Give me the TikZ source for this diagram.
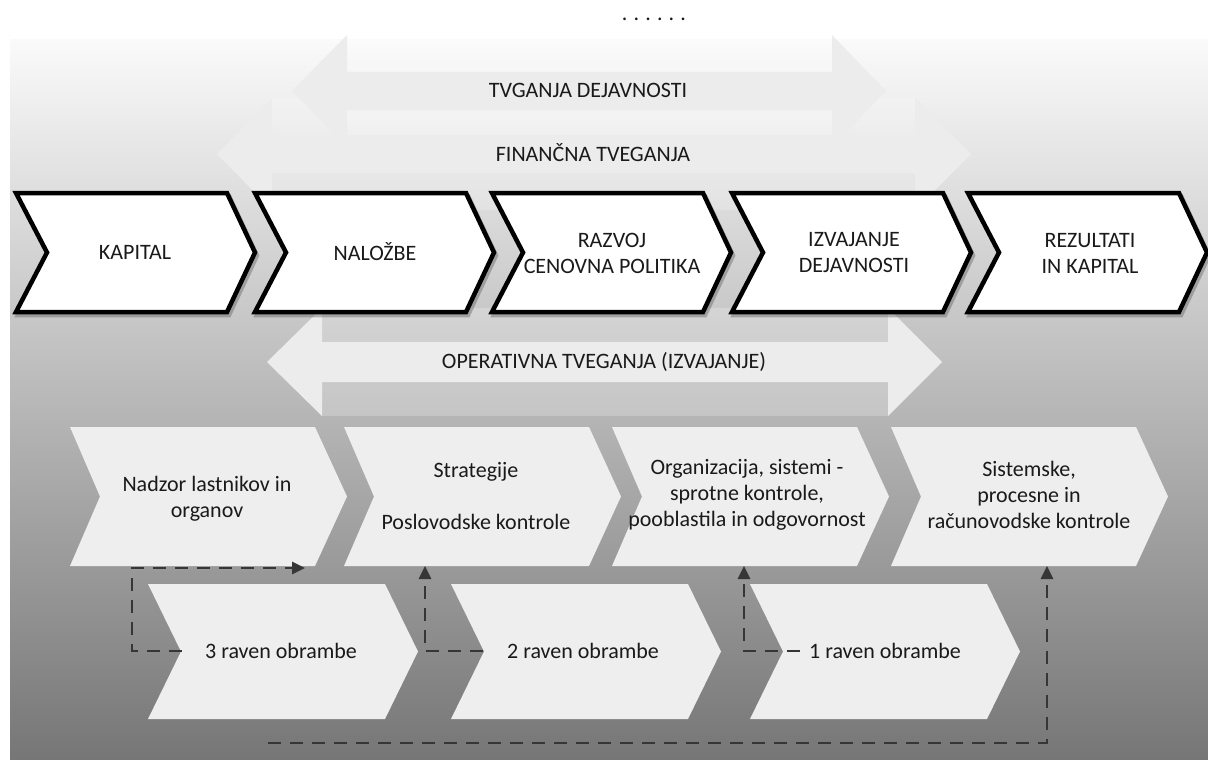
\documentclass[tikz,border=0pt]{standalone}
\usepackage{fontspec}
\setmainfont{Carlito}
\usetikzlibrary{arrows.meta}
\definecolor{arrowfill}{HTML}{ECECEC}
\definecolor{chevfill}{HTML}{EEEEEE}
\definecolor{txt}{HTML}{1A1A1A}
\definecolor{dashc}{HTML}{363636}
\definecolor{bgtop}{HTML}{FAFAFA}
\definecolor{bgmid}{HTML}{C6C6C6}
\definecolor{bgbot}{HTML}{767676}
% style, L, T, B, W, D, N
\newcommand{\chevshape}[7]{%
  \path[#1] (#2,#3) -- ({#2+#5},#3) -- ({#2+#5+#6},{(#3+#4)/2}) -- ({#2+#5},#4) -- (#2,#4) -- ({#2+#7},{(#3+#4)/2}) -- cycle;}
% leftbase, rightbase, cy, headhalf
\newcommand{\bandshape}[4]{%
  \path[bandrect] (#1,{#3-#4}) rectangle (#2,{#3+#4});}
% lefttip, leftbase, rightbase, righttip, cy, shafthalf, headhalf
\newcommand{\dblarrowshape}[7]{%
  \path[bigarrow] (#1,#5) -- (#2,{#5-#7}) -- (#2,{#5-#6}) -- (#3,{#5-#6}) -- (#3,{#5-#7}) -- (#4,#5) -- (#3,{#5+#7}) -- (#3,{#5+#6}) -- (#2,{#5+#6}) -- (#2,{#5+#7}) -- cycle;}
\begin{document}
\begin{tikzpicture}[x=1pt,y=-1pt,
  lbl/.style={text=txt, font=\fontsize{22}{26}\selectfont, align=center, inner sep=0pt},
  topchev/.style={fill=white, draw=black, line width=4.5pt, line join=miter},
  topshadow/.style={draw=black!60, line width=4.5pt, opacity=0.45, line join=miter},
  lowchev/.style={fill=chevfill},
  bigarrow/.style={fill=arrowfill},
  bandrect/.style={fill=white, opacity=0.22},
  conn/.style={draw=dashc, line width=2.6pt, dash pattern=on 13pt off 9pt},
  connarrow/.style={conn, -{Triangle[length=13pt,width=12pt]}}]
\useasboundingbox (0,0) rectangle (1208,760);
\fill[white] (0,0) rectangle (1208,760);
\shade[top color=bgtop, middle color=bgmid, bottom color=bgbot] (10,40) rectangle (1208,760);

% top dots
\node[lbl, font=\fontsize{22}{26}\selectfont\addfontfeature{LetterSpace=28}] (dots) at (654,19) {......};

% light bands behind the double arrows
\bandshape{347}{832}{91}{56}
\bandshape{272}{915}{154}{56}
\bandshape{322}{888}{362}{54}
% double arrows
\dblarrowshape{292}{347}{832}{886}{91}{19}{56}
\dblarrowshape{217}{272}{915}{971}{154}{19}{56}
\dblarrowshape{267}{322}{888}{942}{362}{20}{54}

\node[lbl] (tvd) at (588,90) {TVGANJA DEJAVNOSTI};
\node[lbl] (fin) at (593,153) {FINANČNA TVEGANJA};

% top chevrons
\foreach \L in {16,255,492,732,968} {
  \chevshape{topshadow, shift={(2,3)}}{\L}{193}{312}{211}{28}{31}
}
\foreach \L in {16,255,492,732,968} {
  \chevshape{topchev}{\L}{193}{312}{211}{28}{31}
}
\node[lbl] (kap) at (135,252) {KAPITAL};
\node[lbl] (nal) at (375,252) {NALOŽBE};
\node[lbl] (raz) at (612,253) {RAZVOJ\\CENOVNA POLITIKA};
\node[lbl] (izv) at (854,253) {IZVAJANJE\\DEJAVNOSTI};
\node[lbl] (rez) at (1090,253) {REZULTATI\\IN KAPITAL};

\node[lbl] (ope) at (604,362) {OPERATIVNA TVEGANJA (IZVAJANJE)};

% row A chevrons
\foreach \L in {70,344,612,891} {
  \chevshape{lowchev}{\L}{427}{566}{245}{32}{30}
}
\node[lbl, text depth=0pt] (nad) at (207,497) {Nadzor lastnikov in\\organov};
\node[lbl] (str) at (476,496) {Strategije\\[26pt]Poslovodske kontrole};
\node[lbl] (org) at (747,495) {Organizacija, sistemi -\\sprotne kontrole,\\pooblastila in odgovornost};
\node[lbl] (sis) at (1029,495) {Sistemske,\\procesne in\\računovodske kontrole};

% row B chevrons
\foreach \L in {148,451,750} {
  \chevshape{lowchev}{\L}{584}{719}{237}{33}{33}
}
\node[lbl] (r3) at (281,651) {3 raven obrambe};
\node[lbl] (r2) at (583,651) {2 raven obrambe};
\node[lbl] (r1) at (885,651) {1 raven obrambe};

% connectors
\coordinate (b1n) at (182,651);
\coordinate (k1) at (132,651);
\coordinate (a1t) at (305,568);
\coordinate (b2n) at (483,651);
\coordinate (a2b) at (425,566);
\coordinate (b3s) at (800,651);
\coordinate (a3b) at (744,566);
\coordinate (f0) at (268,743);
\coordinate (a4b) at (1047,566);
\draw[connarrow] (b1n) -- (k1) |- (a1t);
\draw[connarrow] (b2n) -| (a2b);
\draw[connarrow] (b3s) -| (a3b);
\draw[connarrow] (f0) -| (a4b);
\end{tikzpicture}
\end{document}
